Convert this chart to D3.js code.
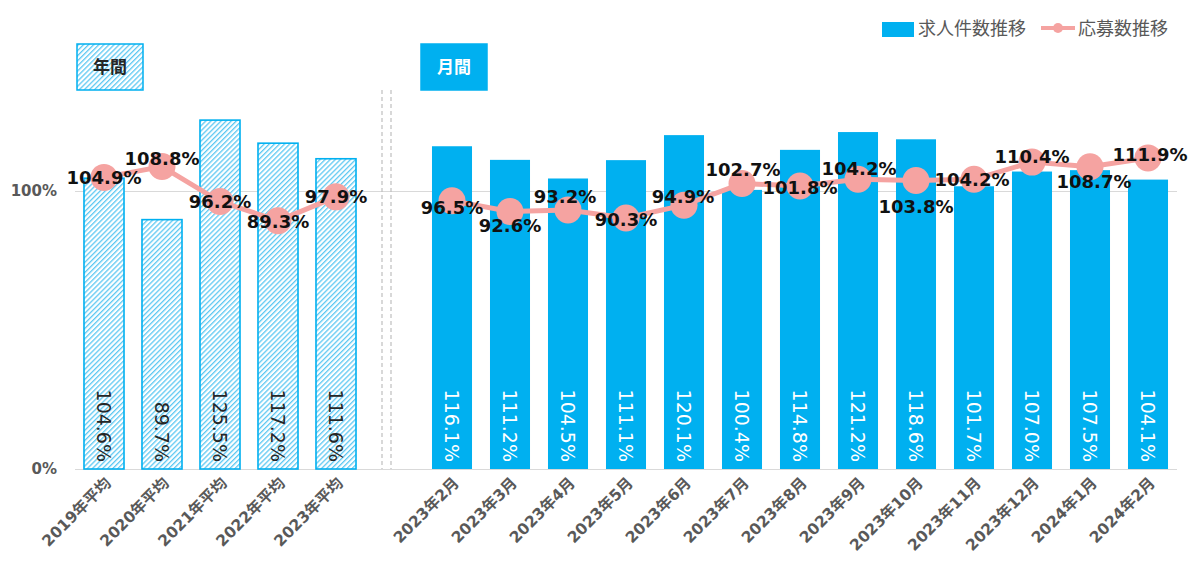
<!DOCTYPE html>
<html><head><meta charset="utf-8">
<script src="https://cdn.jsdelivr.net/npm/d3@7"></script>
<style>
html,body{margin:0;padding:0;background:#fff;}
svg{display:block;}
</style></head>
<body>
<svg id="chart" width="1200" height="570"></svg>
<script>
// ---- data ----
const annualCategories = ["2019年平均","2020年平均","2021年平均","2022年平均","2023年平均"];
const monthlyCategories = ["2023年2月","2023年3月","2023年4月","2023年5月","2023年6月","2023年7月","2023年8月","2023年9月","2023年10月","2023年11月","2023年12月","2024年1月","2024年2月"];
const annualJobs = [104.6, 89.7, 125.5, 117.2, 111.6];
const monthlyJobs = [116.1, 111.2, 104.5, 111.1, 120.1, 100.4, 114.8, 121.2, 118.6, 101.7, 107.0, 107.5, 104.1];
const annualApps = [104.9, 108.8, 96.2, 89.3, 97.9];
const monthlyApps = [96.5, 92.6, 93.2, 90.3, 94.9, 102.7, 101.8, 104.2, 103.8, 104.2, 110.4, 108.7, 111.9];
const yTicks = [0, 100];
const seriesNames = ["求人件数推移", "応募数推移"];
const groupTitles = ["年間", "月間"];

// ---- layout (label offsets for line labels, px) ----
const annualLabelDy = [0, -8, 0, 1, 0];
const monthlyLabelDy = [7, 14, -13, 2, -9, -14, 2, -11, 26, 0, -6, 15, -3];
const monthlyLabelDx = [0, 0, -3, 0, -1, 1, 0, 1, 0, -2, 0, 4, 2];

const GAP = "__gap__";
const cats = [...annualCategories, GAP, ...monthlyCategories];

const svg = d3.select("#chart");
const BLUE = "#00B0F0", PINK = "#F5A3A1", GRAY = "#595959";
const font = "'DejaVu Sans','Noto Sans CJK JP',sans-serif";

const x = d3.scaleBand().domain(cats).range([75, 1177]).paddingInner(0.31).paddingOuter(0.155);
const y = d3.scaleLinear().domain([0, 150]).range([469, 469 - 417]);

// hatch pattern
const defs = svg.append("defs");
const pat = defs.append("pattern").attr("id","hatch").attr("patternUnits","userSpaceOnUse")
  .attr("width",3.6).attr("height",3.6).attr("patternTransform","rotate(45)");
pat.append("rect").attr("width",3.6).attr("height",3.6).attr("fill","#ffffff");
pat.append("rect").attr("x",0).attr("y",0).attr("width",1.3).attr("height",3.6).attr("fill","#5cc8f2");

// y axis with gridlines
const yAxis = svg.append("g").attr("transform","translate(75,0)")
  .call(d3.axisLeft(y).tickValues(yTicks).tickFormat(d => d + "%").tickSize(-1102).tickPadding(18));
yAxis.select(".domain").remove();
yAxis.attr("font-size",15).attr("font-family",font);
yAxis.selectAll("line").attr("stroke","#d9d9d9").attr("stroke-width",1.2);
yAxis.selectAll("text").attr("fill",GRAY).style("font-size","15px").attr("font-weight","bold");

// x axis
const xAxis = svg.append("g").attr("transform","translate(0,469)")
  .call(d3.axisBottom(x).tickFormat(d => d === GAP ? "" : d).tickSize(0));
xAxis.select(".domain").remove();
xAxis.attr("font-size",15.5).attr("font-family",font);
xAxis.selectAll("text")
  .attr("fill",GRAY).style("font-size","15.5px").attr("font-weight","bold")
  .attr("text-anchor","end").attr("dy",0).attr("y",0)
  .attr("transform","translate(8,15) rotate(-45)");

// separator dashed lines
const gx = x(GAP) + x.bandwidth()/2;
[-12, -3].forEach(o => {
  svg.append("line").attr("x1",gx+o).attr("x2",gx+o).attr("y1",90).attr("y2",469)
    .attr("stroke","#bfbfbf").attr("stroke-width",1.2).attr("stroke-dasharray","4,3");
});

// bars
const annualData = annualCategories.map((c,i)=>({c, v: annualJobs[i]}));
const monthlyData = monthlyCategories.map((c,i)=>({c, v: monthlyJobs[i]}));

svg.append("g").selectAll("rect").data(annualData).join("rect")
  .attr("x", d => x(d.c)).attr("width", x.bandwidth())
  .attr("y", d => y(d.v)).attr("height", d => y(0) - y(d.v))
  .attr("fill","url(#hatch)").attr("stroke",BLUE).attr("stroke-width",1.6);

svg.append("g").selectAll("rect").data(monthlyData).join("rect")
  .attr("x", d => x(d.c)).attr("width", x.bandwidth())
  .attr("y", d => y(d.v)).attr("height", d => y(0) - y(d.v))
  .attr("fill",BLUE);

// bar labels (rotated 90deg)
function barLabels(data, color){
  svg.append("g").selectAll("text").data(data).join("text")
    .attr("transform", d => `translate(${x(d.c)+x.bandwidth()/2},${y(0)-7}) rotate(90)`)
    .attr("text-anchor","end").attr("dy","0.36em")
    .attr("fill",color).attr("font-family",font).attr("font-size",19)
    .text(d => d.v.toFixed(1) + "%");
}
barLabels(annualData, "#262626");
barLabels(monthlyData, "#ffffff");

// lines
const line = d3.line().x(d => x(d.c) + x.bandwidth()/2).y(d => y(d.v));
const annualLine = annualCategories.map((c,i)=>({c, v: annualApps[i], dy: annualLabelDy[i], dx: 0}));
const monthlyLine = monthlyCategories.map((c,i)=>({c, v: monthlyApps[i], dy: monthlyLabelDy[i], dx: monthlyLabelDx[i]}));
[annualLine, monthlyLine].forEach(data => {
  svg.append("path").datum(data).attr("d", line)
    .attr("fill","none").attr("stroke",PINK).attr("stroke-width",5);
  svg.append("g").selectAll("circle").data(data).join("circle")
    .attr("cx", d => x(d.c) + x.bandwidth()/2).attr("cy", d => y(d.v)).attr("r",13.5)
    .attr("fill",PINK);
});
[annualLine, monthlyLine].forEach(data => {
  svg.append("g").selectAll("text").data(data).join("text")
    .attr("x", d => x(d.c) + x.bandwidth()/2 + d.dx).attr("y", d => y(d.v) + d.dy)
    .attr("dy","0.36em").attr("text-anchor","middle")
    .attr("fill","#111").attr("font-family",font).attr("font-size",18).attr("font-weight","bold")
    .text(d => d.v.toFixed(1) + "%");
});

// group title boxes
const boxes = [
  {t: groupTitles[0], x0: 77, fill: "url(#hatch)", stroke: BLUE, color: "#262626"},
  {t: groupTitles[1], x0: 421, fill: BLUE, stroke: BLUE, color: "#ffffff"}
];
boxes.forEach(b => {
  svg.append("rect").attr("x",b.x0).attr("y",44).attr("width",66).attr("height",46)
    .attr("fill",b.fill).attr("stroke",b.stroke).attr("stroke-width",1.5);
  svg.append("text").attr("x",b.x0+33).attr("y",67).attr("dy","0.36em").attr("text-anchor","middle")
    .attr("fill",b.color).attr("font-family","'Noto Sans CJK JP',sans-serif").attr("font-size",17).attr("font-weight","bold")
    .text(b.t);
});

// legend
const lg = svg.append("g").attr("font-family","'Noto Sans CJK JP',sans-serif").attr("font-size",18).attr("fill",GRAY);
lg.append("rect").attr("x",882).attr("y",22).attr("width",32).attr("height",15).attr("fill",BLUE);
lg.append("text").attr("x",918).attr("y",29).attr("dy","0.36em").text(seriesNames[0]);
lg.append("line").attr("x1",1041).attr("x2",1075).attr("y1",28).attr("y2",28).attr("stroke",PINK).attr("stroke-width",4);
lg.append("circle").attr("cx",1058).attr("cy",28).attr("r",5).attr("fill",PINK);
lg.append("text").attr("x",1078).attr("y",29).attr("dy","0.36em").text(seriesNames[1]);
</script>
</body></html>
